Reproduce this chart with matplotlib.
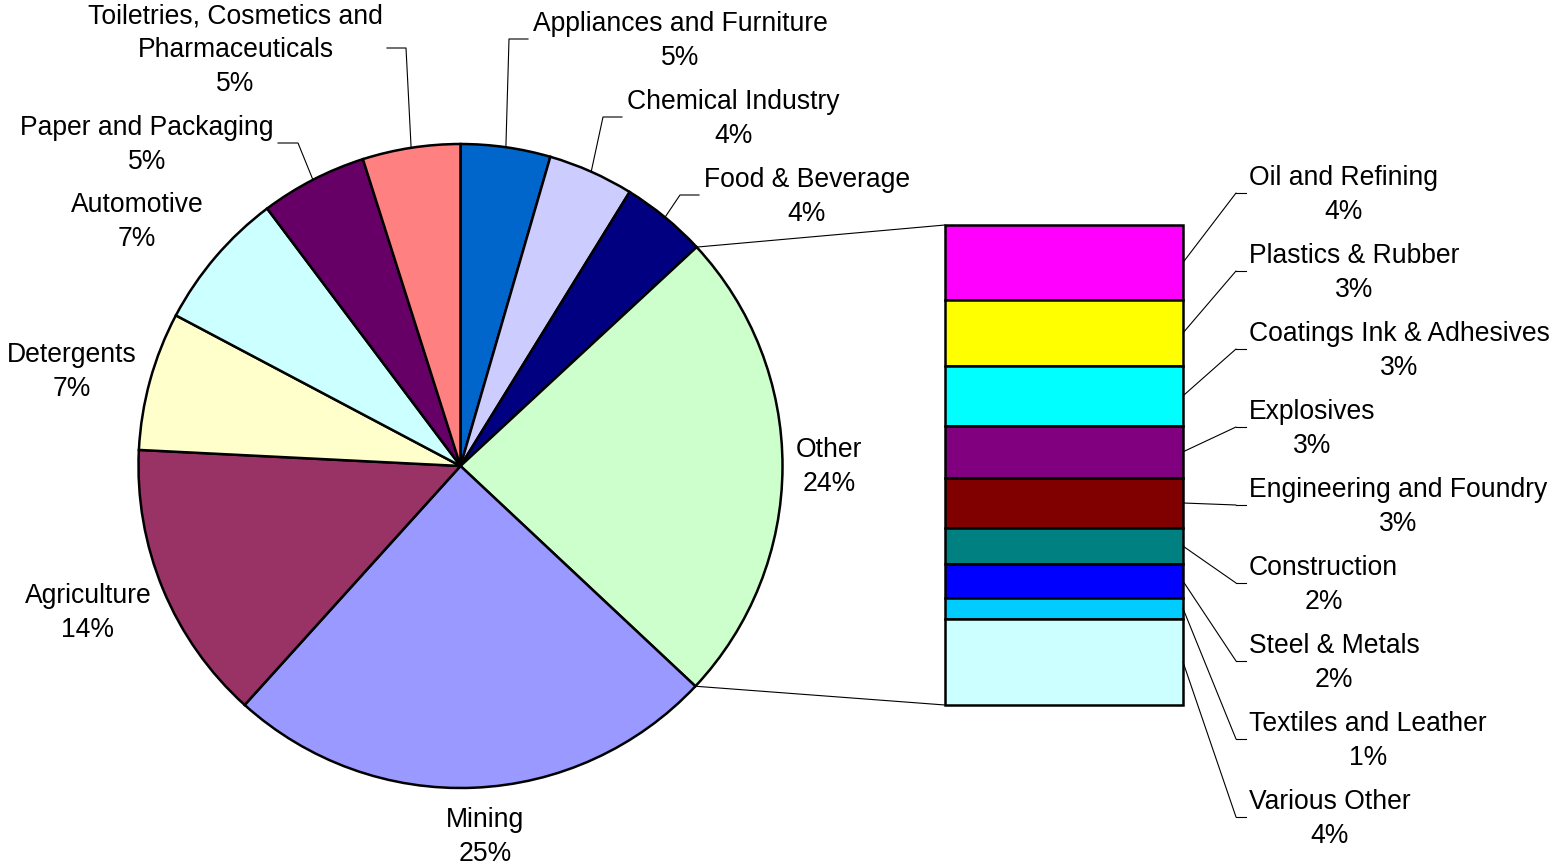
"""
Pie-of-bar chart: industry shares, with "Other" broken out in a stacked bar
"""
import numpy as np
import matplotlib
matplotlib.use("Agg")
import matplotlib.pyplot as plt
from matplotlib.patches import ConnectionPatch

plt.rcParams['font.family'] = ['Liberation Sans', 'DejaVu Sans']

# ── data (share of total, %) ─────────────────────────
pie_labels = ["Appliances and Furniture", "Chemical Industry", "Food & Beverage", "Other",
              "Mining", "Agriculture", "Detergents", "Automotive", "Paper and Packaging",
              "Toiletries, Cosmetics and\nPharmaceuticals"]
pie_values = [4.5, 4.3, 4.3, 23.88, 24.7, 14.1, 6.95, 7.0, 5.35, 4.9]
pie_colors = ["#0066CC", "#CCCCFF", "#000080", "#CCFFCC", "#9999FF",
              "#993366", "#FFFFCC", "#CCFFFF", "#660066", "#FF8080"]

bar_labels = ["Oil and Refining", "Plastics & Rubber", "Coatings Ink & Adhesives", "Explosives",
              "Engineering and Foundry", "Construction", "Steel & Metals",
              "Textiles and Leather", "Various Other"]
bar_values = [3.73, 3.28, 2.98, 2.59, 2.5, 1.79, 1.69, 1.04, 4.28]
bar_colors = ["#FF00FF", "#FFFF00", "#00FFFF", "#800080", "#800000",
              "#008080", "#0000FF", "#00CCFF", "#CCFFFF"]

total = sum(pie_values)


def pct(v):
    return f"{int(np.floor(v / total * 100 + 0.5))}%"


# ── layout (pixel coords, y from top) ────────────────
W, H = 1549, 866
FS = 19.1
LS = 1.38
TXT_DY = 2          # text sits a little lower than its leader line
cx, cy, R = 460.5, H - 466, 322

# label: (x, y, ha, leader elbow x, leader end x) ; elbow None = no leader
pie_label_pos = [
    (533, 39, "left", 509, 528),
    (627, 117, "left", 603, 622),
    (704, 195, "left", 680, 699),
    (829, 465, "center", None, None),
    (485, 835, "center", None, None),
    (88, 611, "center", None, None),
    (72, 370, "center", None, None),
    (137, 220, "center", None, None),
    (274, 143, "right", 298, 278),
    (383, 48, "right", 406, 387),
]

fig = plt.figure(figsize=(W / 100, H / 100), dpi=100)
ax = fig.add_axes([0, 0, 1, 1])

wedges, _ = ax.pie(pie_values, colors=pie_colors, startangle=90, counterclock=False,
                   center=(cx, cy), radius=R,
                   wedgeprops=dict(edgecolor="black", linewidth=1.8))
ax.set_xlim(0, W)
ax.set_ylim(0, H)
ax.axis("off")


def on_rim(frac):
    a = 2 * np.pi * frac
    return cx + R * np.sin(a), cy + R * np.cos(a)


cum = np.concatenate([[0], np.cumsum(pie_values)]) / total
for i, (lab, v) in enumerate(zip(pie_labels, pie_values)):
    x, y, ha, elbow, end = pie_label_pos[i]
    ax.text(x, H - y - TXT_DY, f"{lab}\n{pct(v)}", ha=ha, va="center",
            multialignment="center", fontsize=FS, linespacing=LS)
    if elbow is not None:
        sx, sy = on_rim((cum[i] + cum[i + 1]) / 2)
        ax.plot([sx, elbow, end], [sy, H - y, H - y], color="black", lw=0.8)

# ── stacked bar for "Other" ──────────────────────────
bx0, by0, bw, bh = 945, 225, 238, 480
ax_bar = fig.add_axes([bx0 / W, (H - by0 - bh) / H, bw / W, bh / H])
bar_total = sum(bar_values)
tops = bar_total - np.concatenate([[0], np.cumsum(bar_values)[:-1]])
for v, t, c in zip(bar_values, tops, bar_colors):
    ax_bar.bar(0, v, bottom=t - v, width=1, color=c, edgecolor="black",
               linewidth=1.8, clip_on=False)
ax_bar.set_xlim(-0.5, 0.5)
ax_bar.set_ylim(0, bar_total)
ax_bar.axis("off")

for i, (lab, v, t) in enumerate(zip(bar_labels, bar_values, tops)):
    ty = H - (193 + 78 * i)
    ax.text(1249, ty - TXT_DY, f"{lab}\n{pct(v)}", ha="left", va="center",
            multialignment="center", fontsize=FS, linespacing=LS)
    con = ConnectionPatch(xyA=(0.5, t - v / 2), coordsA=ax_bar.transData,
                          xyB=(1236, ty), coordsB=ax.transData, color="black", lw=0.8)
    fig.add_artist(con)
    ax.plot([1236, 1246], [ty, ty], color="black", lw=0.8)

# connectors from pie "Other" wedge to the bar
other = pie_labels.index("Other")
for frac, yb in [(cum[other], bar_total), (cum[other + 1], 0)]:
    con = ConnectionPatch(xyA=on_rim(frac), coordsA=ax.transData,
                          xyB=(-0.5, yb), coordsB=ax_bar.transData, color="black", lw=0.8)
    fig.add_artist(con)

fig.savefig("out.png", dpi=100)
